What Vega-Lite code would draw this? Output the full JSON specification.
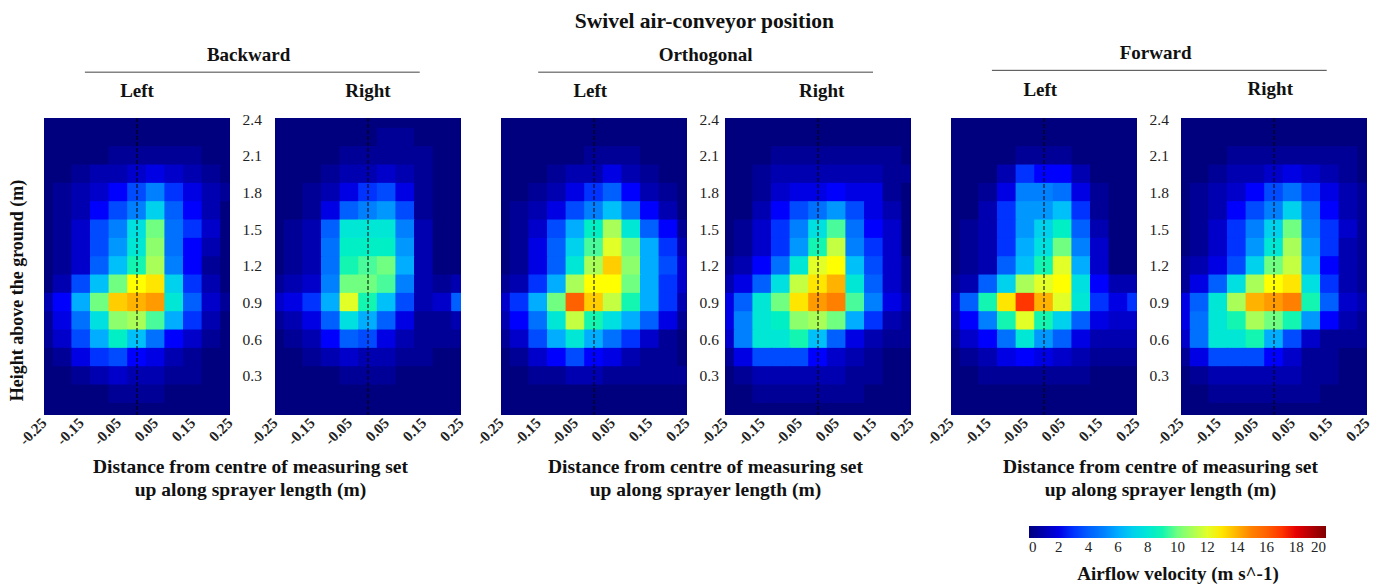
{"$schema":"https://vega.github.io/schema/vega-lite/v6.json",
"padding":{"left":8,"top":10,"right":0,"bottom":82},
"background":"white",
"title":{"text":"Swivel air-conveyor position","anchor":"middle","font":"Liberation Serif","fontSize":21.5,"fontWeight":"bold","color":"#111","offset":12,"dx":14},
"config":{"view":{"stroke":null},
"axisX":{"labels":false,"ticks":false,"domain":false,"grid":false,"titleFont":"Liberation Serif","titleFontSize":19.5,"titleFontWeight":"bold","titleColor":"#111","titleLineHeight":23,"titleY":42,"titleAnchor":"middle"},
"axisY":{"labelFont":"Liberation Serif","labelFontSize":15.5,"labelColor":"#222","ticks":false,"domain":false,"grid":false,"labelPadding":12,"titleFont":"Liberation Serif"},
"text":{"font":"Liberation Serif","fontSize":19,"fontWeight":"bold","color":"#111"}},
"datasets":{
"BL":[
{"y":2.4,"-25":0,"-20":0,"-15":0,"-10":0,"-5":0,"0":0,"5":0,"10":0,"15":0,"20":0,"25":0},
{"y":2.25,"-25":0,"-20":0,"-15":0,"-10":0,"-5":0,"0":0,"5":0,"10":0,"15":0,"20":0,"25":0},
{"y":2.1,"-25":0,"-20":0,"-15":0,"-10":0,"-5":0.5,"0":0.5,"5":0.5,"10":0.5,"15":0.5,"20":0,"25":0},
{"y":1.95,"-25":0,"-20":0,"-15":0.5,"-10":1,"-5":1,"0":1.5,"5":2,"10":1.5,"15":1,"20":0.5,"25":0},
{"y":1.8,"-25":0,"-20":0.5,"-15":1,"-10":1.5,"-5":2.5,"0":3.5,"5":5,"10":3,"15":2,"20":1,"25":0.5},
{"y":1.65,"-25":0,"-20":0.5,"-15":1,"-10":2.5,"-5":3.5,"0":5,"5":7,"10":4,"15":2.5,"20":1,"25":0},
{"y":1.5,"-25":0,"-20":0.5,"-15":1.5,"-10":3.5,"-5":5,"0":7.5,"5":10,"10":4.5,"15":3,"20":1.5,"25":0},
{"y":1.35,"-25":0,"-20":0.5,"-15":1.5,"-10":3.5,"-5":5.5,"0":8,"5":10.5,"10":4.5,"15":2.5,"20":1,"25":0},
{"y":1.2,"-25":0,"-20":0.5,"-15":1.5,"-10":4,"-5":6.5,"0":9,"5":11,"10":5,"15":2.5,"20":0.5,"25":0},
{"y":1.05,"-25":0,"-20":1,"-15":3.5,"-10":6.5,"-5":10,"0":12.5,"5":13,"10":7,"15":3,"20":1,"25":0},
{"y":0.9,"-25":1,"-20":2.5,"-15":6,"-10":10,"-5":13.5,"0":14,"5":14.5,"10":8,"15":4,"20":1.5,"25":0.5},
{"y":0.75,"-25":0.5,"-20":2,"-15":4.5,"-10":7.5,"-5":10.5,"0":11,"5":9.5,"10":6,"15":3,"20":1,"25":0},
{"y":0.6,"-25":0.5,"-20":1.5,"-15":3.5,"-10":6,"-5":8.5,"0":6.5,"5":4.5,"10":2.5,"15":1.5,"20":0.5,"25":0},
{"y":0.45,"-25":0,"-20":0.5,"-15":2,"-10":3,"-5":3.5,"0":2.5,"5":2,"10":1,"15":0.5,"20":0,"25":0},
{"y":0.3,"-25":0,"-20":0,"-15":0.5,"-10":1,"-5":1.5,"0":1,"5":1,"10":0.5,"15":0.5,"20":0,"25":0},
{"y":0.15,"-25":0,"-20":0,"-15":0,"-10":0,"-5":0.5,"0":0.5,"5":0.5,"10":0,"15":0,"20":0,"25":0},
{"y":0,"-25":0,"-20":0,"-15":0,"-10":0,"-5":0,"0":0,"5":0,"10":0,"15":0,"20":0,"25":0}],
"BR":[
{"y":2.4,"-25":0,"-20":0,"-15":0,"-10":0,"-5":0,"0":0,"5":0,"10":0,"15":0,"20":0,"25":0},
{"y":2.25,"-25":0,"-20":0,"-15":0,"-10":0,"-5":0,"0":0,"5":0.5,"10":0.5,"15":0,"20":0,"25":0},
{"y":2.1,"-25":0,"-20":0,"-15":0,"-10":0,"-5":0.5,"0":0.5,"5":0.5,"10":0.5,"15":0.5,"20":0,"25":0},
{"y":1.95,"-25":0,"-20":0,"-15":0,"-10":0.5,"-5":1,"0":1,"5":1.5,"10":1,"15":0.5,"20":0,"25":0},
{"y":1.8,"-25":0,"-20":0,"-15":0.5,"-10":1,"-5":2,"0":3,"5":3.5,"10":2,"15":0.5,"20":0,"25":0},
{"y":1.65,"-25":0,"-20":0,"-15":0.5,"-10":2,"-5":4,"0":5,"5":5.5,"10":3.5,"15":0.5,"20":0,"25":0},
{"y":1.5,"-25":0,"-20":0.5,"-15":1,"-10":4,"-5":8,"0":8,"5":8,"10":5,"15":1,"20":0,"25":0},
{"y":1.35,"-25":0,"-20":0.5,"-15":1,"-10":4.5,"-5":8.5,"0":8.5,"5":8.5,"10":5.5,"15":1,"20":0,"25":0},
{"y":1.2,"-25":0,"-20":0.5,"-15":1,"-10":4.5,"-5":9,"0":9.5,"5":10,"10":6,"15":1,"20":0,"25":0},
{"y":1.05,"-25":0.5,"-20":1,"-15":1.5,"-10":5,"-5":10,"0":10,"5":9.5,"10":5,"15":1,"20":0.5,"25":1},
{"y":0.9,"-25":1.5,"-20":2,"-15":3,"-10":6,"-5":12,"0":9,"5":6.5,"10":3.5,"15":1,"20":1.5,"25":4},
{"y":0.75,"-25":0.5,"-20":1,"-15":2,"-10":4,"-5":7.5,"0":6,"5":4,"10":2,"15":0.5,"20":0.5,"25":1},
{"y":0.6,"-25":0,"-20":0.5,"-15":1,"-10":2.5,"-5":4,"0":3.5,"5":2,"10":1,"15":0.5,"20":0.5,"25":0.5},
{"y":0.45,"-25":0,"-20":0,"-15":0.5,"-10":1,"-5":1.5,"0":1,"5":1,"10":0.5,"15":0.5,"20":0,"25":0},
{"y":0.3,"-25":0,"-20":0,"-15":0,"-10":0,"-5":0.5,"0":0.5,"5":0.5,"10":0,"15":0,"20":0,"25":0},
{"y":0.15,"-25":0,"-20":0,"-15":0,"-10":0,"-5":0,"0":0,"5":0,"10":0,"15":0,"20":0,"25":0},
{"y":0,"-25":0,"-20":0,"-15":0,"-10":0,"-5":0,"0":0,"5":0,"10":0,"15":0,"20":0,"25":0}],
"OL":[
{"y":2.4,"-25":0,"-20":0,"-15":0,"-10":0,"-5":0,"0":0,"5":0,"10":0,"15":0,"20":0,"25":0},
{"y":2.25,"-25":0,"-20":0,"-15":0,"-10":0,"-5":0,"0":0,"5":0,"10":0,"15":0,"20":0,"25":0},
{"y":2.1,"-25":0,"-20":0,"-15":0,"-10":0,"-5":0,"0":0.5,"5":0.5,"10":0.5,"15":0,"20":0,"25":0},
{"y":1.95,"-25":0,"-20":0,"-15":0,"-10":0.5,"-5":1,"0":1,"5":2,"10":1,"15":0.5,"20":0,"25":0},
{"y":1.8,"-25":0,"-20":0,"-15":0.5,"-10":1,"-5":2,"0":3,"5":4,"10":2.5,"15":1,"20":0.5,"25":0},
{"y":1.65,"-25":0,"-20":0.5,"-15":1,"-10":2,"-5":3.5,"0":5,"5":6.5,"10":4.5,"15":2.5,"20":1,"25":0},
{"y":1.5,"-25":0,"-20":0.5,"-15":1.5,"-10":3.5,"-5":6,"0":8.5,"5":11,"10":8,"15":4,"20":2.5,"25":0.5},
{"y":1.35,"-25":0,"-20":0.5,"-15":2,"-10":4,"-5":7,"0":9.5,"5":12,"10":10,"15":6,"20":3,"25":1},
{"y":1.2,"-25":0,"-20":0.5,"-15":2,"-10":4,"-5":8,"0":11,"5":13.5,"10":10.5,"15":6,"20":3.5,"25":1.5},
{"y":1.05,"-25":0.5,"-20":1,"-15":3,"-10":6,"-5":11,"0":12.5,"5":12.5,"10":10,"15":6,"20":3,"25":1.5},
{"y":0.9,"-25":1.5,"-20":3,"-15":6,"-10":10,"-5":16,"0":13.5,"5":11.5,"10":9,"15":6,"20":3,"25":1},
{"y":0.75,"-25":1,"-20":2.5,"-15":4.5,"-10":8,"-5":11.5,"0":9,"5":7.5,"10":6,"15":4,"20":2,"25":0.5},
{"y":0.6,"-25":0.5,"-20":1.5,"-15":3.5,"-10":6,"-5":8,"0":6,"5":4.5,"10":3,"15":1.5,"20":0.5,"25":0},
{"y":0.45,"-25":0,"-20":0.5,"-15":1.5,"-10":2.5,"-5":3.5,"0":2.5,"5":2,"10":1,"15":0.5,"20":0.5,"25":0},
{"y":0.3,"-25":0,"-20":0,"-15":0.5,"-10":0.5,"-5":1,"0":1,"5":0.5,"10":0.5,"15":0.5,"20":0.5,"25":0.5},
{"y":0.15,"-25":0,"-20":0,"-15":0,"-10":0,"-5":0,"0":0,"5":0,"10":0,"15":0,"20":0,"25":0},
{"y":0,"-25":0,"-20":0,"-15":0,"-10":0,"-5":0,"0":0,"5":0,"10":0,"15":0,"20":0,"25":0}],
"OR":[
{"y":2.4,"-25":0,"-20":0,"-15":0,"-10":0,"-5":0,"0":0,"5":0,"10":0,"15":0,"20":0,"25":0},
{"y":2.25,"-25":0,"-20":0,"-15":0,"-10":0,"-5":0,"0":0,"5":0,"10":0,"15":0,"20":0,"25":0},
{"y":2.1,"-25":0,"-20":0,"-15":0,"-10":0.5,"-5":0.5,"0":0.5,"5":0.5,"10":0.5,"15":0.5,"20":0.5,"25":0},
{"y":1.95,"-25":0,"-20":0,"-15":0.5,"-10":1,"-5":1,"0":1,"5":1,"10":1,"15":1,"20":0.5,"25":0.5},
{"y":1.8,"-25":0,"-20":0,"-15":0.5,"-10":1.5,"-5":2,"0":2,"5":2.5,"10":2,"15":2,"20":0.5,"25":0},
{"y":1.65,"-25":0,"-20":0,"-15":1,"-10":2.5,"-5":3.5,"0":4.5,"5":5.5,"10":3.5,"15":2,"20":1,"25":0},
{"y":1.5,"-25":0,"-20":0.5,"-15":1.5,"-10":3,"-5":5,"0":7.5,"5":9.5,"10":4.5,"15":2.5,"20":1.5,"25":0},
{"y":1.35,"-25":0,"-20":0.5,"-15":1.5,"-10":3,"-5":5.5,"0":9,"5":11.5,"10":5,"15":3,"20":1.5,"25":0},
{"y":1.2,"-25":0.5,"-20":1,"-15":2.5,"-10":4.5,"-5":8,"0":12,"5":12.5,"10":6.5,"15":3.5,"20":1.5,"25":0.5},
{"y":1.05,"-25":1,"-20":2,"-15":4,"-10":7.5,"-5":11.5,"0":13,"5":14,"10":8,"15":4,"20":1.5,"25":0.5},
{"y":0.9,"-25":2,"-20":4,"-15":8,"-10":10,"-5":13,"0":14.5,"5":15,"10":9.5,"15":5,"20":2,"25":1},
{"y":0.75,"-25":2,"-20":5,"-15":8,"-10":8.5,"-5":10.5,"0":11,"5":10,"10":6,"15":3,"20":1,"25":0.5},
{"y":0.6,"-25":1.5,"-20":5,"-15":8,"-10":8,"-5":9,"0":6.5,"5":4,"10":2,"15":1,"20":0.5,"25":0.5},
{"y":0.45,"-25":0.5,"-20":2,"-15":3.5,"-10":3.5,"-5":3.5,"0":2.5,"5":1.5,"10":1,"15":0.5,"20":0,"25":0},
{"y":0.3,"-25":0,"-20":0.5,"-15":1,"-10":1,"-5":1,"0":1,"5":1,"10":0.5,"15":0.5,"20":0,"25":0},
{"y":0.15,"-25":0,"-20":0,"-15":0.5,"-10":0.5,"-5":0.5,"0":0.5,"5":0.5,"10":0.5,"15":0,"20":0,"25":0},
{"y":0,"-25":0,"-20":0,"-15":0,"-10":0,"-5":0,"0":0,"5":0,"10":0,"15":0,"20":0,"25":0}],
"FL":[
{"y":2.4,"-25":0,"-20":0,"-15":0,"-10":0,"-5":0,"0":0,"5":0,"10":0,"15":0,"20":0,"25":0},
{"y":2.25,"-25":0,"-20":0,"-15":0,"-10":0,"-5":0,"0":0,"5":0,"10":0,"15":0,"20":0,"25":0},
{"y":2.1,"-25":0,"-20":0,"-15":0,"-10":0,"-5":0.5,"0":0.5,"5":0.5,"10":0,"15":0,"20":0,"25":0},
{"y":1.95,"-25":0,"-20":0,"-15":0,"-10":1,"-5":3,"0":2.5,"5":2.5,"10":1,"15":0,"20":0,"25":0},
{"y":1.8,"-25":0,"-20":0,"-15":0.5,"-10":2,"-5":5,"0":5,"5":4.5,"10":2,"15":0.5,"20":0,"25":0},
{"y":1.65,"-25":0,"-20":0,"-15":1,"-10":3,"-5":5.5,"0":5.5,"5":6.5,"10":3,"15":0.5,"20":0,"25":0},
{"y":1.5,"-25":0,"-20":0.5,"-15":1,"-10":3,"-5":5.5,"0":7,"5":8.5,"10":4,"15":1,"20":0,"25":0},
{"y":1.35,"-25":0,"-20":0.5,"-15":1,"-10":3,"-5":6,"0":7.5,"5":10,"10":5,"15":1.5,"20":0,"25":0},
{"y":1.2,"-25":0,"-20":0.5,"-15":1,"-10":4,"-5":6.5,"0":9,"5":12,"10":6,"15":1.5,"20":0,"25":0},
{"y":1.05,"-25":0.5,"-20":1,"-15":4,"-10":7,"-5":11,"0":12,"5":12.5,"10":7.5,"15":2.5,"20":1,"25":1},
{"y":0.9,"-25":1.5,"-20":4,"-15":9,"-10":13,"-5":17,"0":14,"5":12,"10":8,"15":3,"20":2,"25":3},
{"y":0.75,"-25":1,"-20":2.5,"-15":5,"-10":9,"-5":12,"0":9,"5":7,"10":4,"15":2,"20":1.5,"25":1.5},
{"y":0.6,"-25":0.5,"-20":1.5,"-15":2.5,"-10":4.5,"-5":8,"0":5.5,"5":4,"10":2,"15":1,"20":1,"25":1},
{"y":0.45,"-25":0,"-20":0.5,"-15":1,"-10":2,"-5":2.5,"0":2,"5":1.5,"10":1,"15":0.5,"20":0.5,"25":0.5},
{"y":0.3,"-25":0,"-20":0,"-15":0.5,"-10":0.5,"-5":0.5,"0":0.5,"5":0.5,"10":0.5,"15":0,"20":0,"25":0},
{"y":0.15,"-25":0,"-20":0,"-15":0,"-10":0,"-5":0,"0":0,"5":0,"10":0,"15":0,"20":0,"25":0},
{"y":0,"-25":0,"-20":0,"-15":0,"-10":0,"-5":0,"0":0,"5":0,"10":0,"15":0,"20":0,"25":0}],
"FR":[
{"y":2.4,"-25":0,"-20":0,"-15":0,"-10":0,"-5":0,"0":0,"5":0,"10":0,"15":0,"20":0,"25":0},
{"y":2.25,"-25":0,"-20":0,"-15":0,"-10":0,"-5":0,"0":0,"5":0,"10":0,"15":0,"20":0,"25":0},
{"y":2.1,"-25":0,"-20":0,"-15":0,"-10":0.5,"-5":0.5,"0":0.5,"5":0.5,"10":0.5,"15":0.5,"20":0.5,"25":0},
{"y":1.95,"-25":0,"-20":0,"-15":0.5,"-10":1,"-5":1,"0":1.5,"5":2,"10":1.5,"15":1,"20":0.5,"25":0},
{"y":1.8,"-25":0,"-20":0.5,"-15":1,"-10":1.5,"-5":2.5,"0":3.5,"5":4.5,"10":3,"15":2,"20":1,"25":0.5},
{"y":1.65,"-25":0,"-20":0.5,"-15":1,"-10":2.5,"-5":3.5,"0":5,"5":7,"10":4.5,"15":2.5,"20":1,"25":0.5},
{"y":1.5,"-25":0,"-20":0.5,"-15":1.5,"-10":3,"-5":5,"0":7,"5":10,"10":5,"15":3,"20":1.5,"25":0.5},
{"y":1.35,"-25":0,"-20":0.5,"-15":1.5,"-10":3,"-5":5.5,"0":8,"5":11,"10":5.5,"15":3,"20":1,"25":0.5},
{"y":1.2,"-25":0.5,"-20":1,"-15":2,"-10":3.5,"-5":7,"0":10,"5":11.5,"10":6,"15":2.5,"20":1,"25":0.5},
{"y":1.05,"-25":0.5,"-20":2,"-15":4,"-10":7.5,"-5":11,"0":12.5,"5":13,"10":7.5,"15":3,"20":1,"25":0.5},
{"y":0.9,"-25":2,"-20":4,"-15":8,"-10":11,"-5":14,"0":14.5,"5":15,"10":9,"15":4,"20":1.5,"25":1},
{"y":0.75,"-25":2,"-20":4.5,"-15":8,"-10":9,"-5":11,"0":10,"5":9,"10":5.5,"15":2.5,"20":1,"25":0.5},
{"y":0.6,"-25":1.5,"-20":4.5,"-15":8,"-10":8,"-5":9,"0":6,"5":3.5,"10":1.5,"15":0.5,"20":0.5,"25":0.5},
{"y":0.45,"-25":0.5,"-20":2,"-15":3.5,"-10":3.5,"-5":3.5,"0":2.5,"5":1.5,"10":0.5,"15":0.5,"20":0,"25":0},
{"y":0.3,"-25":0,"-20":0.5,"-15":1,"-10":1,"-5":1,"0":1,"5":1,"10":0.5,"15":0.5,"20":0,"25":0},
{"y":0.15,"-25":0,"-20":0,"-15":0.5,"-10":0.5,"-5":0.5,"0":0.5,"5":0.5,"10":0.5,"15":0,"20":0,"25":0},
{"y":0,"-25":0,"-20":0,"-15":0,"-10":0,"-5":0,"0":0,"5":0,"10":0,"15":0,"20":0,"25":0}],
"ZERO":[{"x0":0}],
"TICKS":[{"tk":-25,"ly":-0.065,"l":"-0.25"},{"tk":-15,"ly":-0.065,"l":"-0.15"},{"tk":-5,"ly":-0.065,"l":"-0.05"},{"tk":5,"ly":-0.065,"l":"0.05"},{"tk":15,"ly":-0.065,"l":"0.15"},{"tk":25,"ly":-0.065,"l":"0.25"}]
},
"spacing":6,
"resolve":{"scale":{"color":"independent"},"legend":{"color":"independent"}},
"hconcat":[
{"spacing":45,"bounds":"flush","resolve":{"scale":{"color":"independent"},"legend":{"color":"independent"}},"hconcat":[
{"width":186,"height":297,"layer":[
{"data":{"name":"BL"},"transform":[{"fold":["-25","-20","-15","-10","-5","0","5","10","15","20","25"],"as":["x","v"]}],"mark":{"type":"rect","width":19.6,"height":19.4,"clip":true},"encoding":{
"x":{"field":"x","type":"quantitative","scale":{"domain":[-25,25],"nice":false,"zero":false},"axis":{"title":["Distance from centre of measuring set","up along sprayer length (m)"],"titleX":206}},
"y":{"field":"y","type":"quantitative","scale":{"domain":[-0.02,2.41],"nice":false,"zero":false},"axis":{"values":[0.3,0.6,0.9,1.2,1.5,1.8,2.1,2.4],"format":".1f","labelOverlap":false,"orient":"right","title":"Height above the ground (m)","titleFontSize":18,"titleFontWeight":"bold","titleColor":"#111","titleX":-204,"titleY":172,"titleAngle":270}},
"color":{"field":"v","type":"quantitative","scale":{"domain":[0,2.5,5,7.5,10,12.5,15,17.5,20],"range":["#00007f","#0000ff","#0080ff","#00e0e0","#70ff80","#ffff00","#ff8000","#ff0000","#800000"]},"legend":null}}},
{"data":{"values":[{"a":-14,"b":76,"ly":2.785,"tx":30,"ty":2.925,"t":"Backward","sx":0,"sy":2.63,"s":"Left"}]},"layer":[
{"mark":{"type":"rule","color":"#444","strokeWidth":1},"encoding":{"x":{"field":"a","type":"quantitative"},"x2":{"field":"b"},"y":{"field":"ly","type":"quantitative"}}},
{"mark":{"type":"text"},"encoding":{"x":{"field":"tx","type":"quantitative"},"y":{"field":"ty","type":"quantitative"},"text":{"field":"t"}}},
{"mark":{"type":"text"},"encoding":{"x":{"field":"sx","type":"quantitative"},"y":{"field":"sy","type":"quantitative"},"text":{"field":"s"}}}]},
{"data":{"name":"TICKS"},"mark":{"type":"text","angle":315,"align":"right","baseline":"middle","fontSize":15,"color":"#222"},"encoding":{"x":{"field":"tk","type":"quantitative"},"y":{"field":"ly","type":"quantitative"},"text":{"field":"l"}}},
{"data":{"name":"ZERO"},"mark":{"type":"rule","color":"#000","strokeDash":[4,2],"strokeWidth":1},"encoding":{"x":{"field":"x0","type":"quantitative"}}}]},
{"width":186,"height":297,"layer":[
{"data":{"name":"BR"},"transform":[{"fold":["-25","-20","-15","-10","-5","0","5","10","15","20","25"],"as":["x","v"]}],"mark":{"type":"rect","width":19.6,"height":19.4,"clip":true},"encoding":{
"x":{"field":"x","type":"quantitative","scale":{"domain":[-25,25],"nice":false,"zero":false},"axis":{"title":null}},
"y":{"field":"y","type":"quantitative","scale":{"domain":[-0.02,2.41],"nice":false,"zero":false},"axis":null},
"color":{"field":"v","type":"quantitative","scale":{"domain":[0,2.5,5,7.5,10,12.5,15,17.5,20],"range":["#00007f","#0000ff","#0080ff","#00e0e0","#70ff80","#ffff00","#ff8000","#ff0000","#800000"]},"legend":null}}},
{"data":{"values":[{"sx":0,"sy":2.63,"s":"Right"}]},"mark":{"type":"text"},"encoding":{"x":{"field":"sx","type":"quantitative"},"y":{"field":"sy","type":"quantitative"},"text":{"field":"s"}}},
{"data":{"name":"TICKS"},"mark":{"type":"text","angle":315,"align":"right","baseline":"middle","fontSize":15,"color":"#222"},"encoding":{"x":{"field":"tk","type":"quantitative"},"y":{"field":"ly","type":"quantitative"},"text":{"field":"l"}}},
{"data":{"name":"ZERO"},"mark":{"type":"rule","color":"#000","strokeDash":[4,2],"strokeWidth":1},"encoding":{"x":{"field":"x0","type":"quantitative"}}}]}
]},
{"spacing":38,"bounds":"flush","resolve":{"scale":{"color":"independent"},"legend":{"color":"independent"}},"hconcat":[
{"width":186,"height":297,"layer":[
{"data":{"name":"OL"},"transform":[{"fold":["-25","-20","-15","-10","-5","0","5","10","15","20","25"],"as":["x","v"]}],"mark":{"type":"rect","width":19.6,"height":19.4,"clip":true},"encoding":{
"x":{"field":"x","type":"quantitative","scale":{"domain":[-25,25],"nice":false,"zero":false},"axis":{"title":["Distance from centre of measuring set","up along sprayer length (m)"],"titleX":204}},
"y":{"field":"y","type":"quantitative","scale":{"domain":[-0.02,2.41],"nice":false,"zero":false},"axis":{"values":[0.3,0.6,0.9,1.2,1.5,1.8,2.1,2.4],"format":".1f","labelOverlap":false,"orient":"right","title":null}},
"color":{"field":"v","type":"quantitative","scale":{"domain":[0,2.5,5,7.5,10,12.5,15,17.5,20],"range":["#00007f","#0000ff","#0080ff","#00e0e0","#70ff80","#ffff00","#ff8000","#ff0000","#800000"]},"legend":null}}},
{"data":{"values":[{"a":-15,"b":75,"ly":2.785,"tx":30,"ty":2.925,"t":"Orthogonal","sx":-1,"sy":2.63,"s":"Left"}]},"layer":[
{"mark":{"type":"rule","color":"#444","strokeWidth":1},"encoding":{"x":{"field":"a","type":"quantitative"},"x2":{"field":"b"},"y":{"field":"ly","type":"quantitative"}}},
{"mark":{"type":"text"},"encoding":{"x":{"field":"tx","type":"quantitative"},"y":{"field":"ty","type":"quantitative"},"text":{"field":"t"}}},
{"mark":{"type":"text"},"encoding":{"x":{"field":"sx","type":"quantitative"},"y":{"field":"sy","type":"quantitative"},"text":{"field":"s"}}}]},
{"data":{"name":"TICKS"},"mark":{"type":"text","angle":315,"align":"right","baseline":"middle","fontSize":15,"color":"#222"},"encoding":{"x":{"field":"tk","type":"quantitative"},"y":{"field":"ly","type":"quantitative"},"text":{"field":"l"}}},
{"data":{"name":"ZERO"},"mark":{"type":"rule","color":"#000","strokeDash":[4,2],"strokeWidth":1},"encoding":{"x":{"field":"x0","type":"quantitative"}}}]},
{"width":186,"height":297,"layer":[
{"data":{"name":"OR"},"transform":[{"fold":["-25","-20","-15","-10","-5","0","5","10","15","20","25"],"as":["x","v"]}],"mark":{"type":"rect","width":19.6,"height":19.4,"clip":true},"encoding":{
"x":{"field":"x","type":"quantitative","scale":{"domain":[-25,25],"nice":false,"zero":false},"axis":{"title":null}},
"y":{"field":"y","type":"quantitative","scale":{"domain":[-0.02,2.41],"nice":false,"zero":false},"axis":null},
"color":{"field":"v","type":"quantitative","scale":{"domain":[0,2.5,5,7.5,10,12.5,15,17.5,20],"range":["#00007f","#0000ff","#0080ff","#00e0e0","#70ff80","#ffff00","#ff8000","#ff0000","#800000"]},"legend":null}}},
{"data":{"values":[{"sx":1,"sy":2.63,"s":"Right"}]},"mark":{"type":"text"},"encoding":{"x":{"field":"sx","type":"quantitative"},"y":{"field":"sy","type":"quantitative"},"text":{"field":"s"}}},
{"data":{"name":"TICKS"},"mark":{"type":"text","angle":315,"align":"right","baseline":"middle","fontSize":15,"color":"#222"},"encoding":{"x":{"field":"tk","type":"quantitative"},"y":{"field":"ly","type":"quantitative"},"text":{"field":"l"}}},
{"data":{"name":"ZERO"},"mark":{"type":"rule","color":"#000","strokeDash":[4,2],"strokeWidth":1},"encoding":{"x":{"field":"x0","type":"quantitative"}}}]}
]},
{"spacing":44,"bounds":"flush","resolve":{"scale":{"color":"independent"},"legend":{"color":"independent"}},"hconcat":[
{"width":186,"height":297,"layer":[
{"data":{"name":"FL"},"transform":[{"fold":["-25","-20","-15","-10","-5","0","5","10","15","20","25"],"as":["x","v"]}],"mark":{"type":"rect","width":19.6,"height":19.4,"clip":true},"encoding":{
"x":{"field":"x","type":"quantitative","scale":{"domain":[-25,25],"nice":false,"zero":false},"axis":{"title":["Distance from centre of measuring set","up along sprayer length (m)"],"titleX":209}},
"y":{"field":"y","type":"quantitative","scale":{"domain":[-0.02,2.41],"nice":false,"zero":false},"axis":{"values":[0.3,0.6,0.9,1.2,1.5,1.8,2.1,2.4],"format":".1f","labelOverlap":false,"orient":"right","title":null}},
"color":{"field":"v","type":"quantitative","scale":{"domain":[0,2.5,5,7.5,10,12.5,15,17.5,20],"range":["#00007f","#0000ff","#0080ff","#00e0e0","#70ff80","#ffff00","#ff8000","#ff0000","#800000"]},"legend":null}}},
{"data":{"values":[{"a":-14,"b":76,"ly":2.8,"tx":30,"ty":2.94,"t":"Forward","sx":-1,"sy":2.64,"s":"Left"}]},"layer":[
{"mark":{"type":"rule","color":"#444","strokeWidth":1},"encoding":{"x":{"field":"a","type":"quantitative"},"x2":{"field":"b"},"y":{"field":"ly","type":"quantitative"}}},
{"mark":{"type":"text"},"encoding":{"x":{"field":"tx","type":"quantitative"},"y":{"field":"ty","type":"quantitative"},"text":{"field":"t"}}},
{"mark":{"type":"text"},"encoding":{"x":{"field":"sx","type":"quantitative"},"y":{"field":"sy","type":"quantitative"},"text":{"field":"s"}}}]},
{"data":{"name":"TICKS"},"mark":{"type":"text","angle":315,"align":"right","baseline":"middle","fontSize":15,"color":"#222"},"encoding":{"x":{"field":"tk","type":"quantitative"},"y":{"field":"ly","type":"quantitative"},"text":{"field":"l"}}},
{"data":{"name":"ZERO"},"mark":{"type":"rule","color":"#000","strokeDash":[4,2],"strokeWidth":1},"encoding":{"x":{"field":"x0","type":"quantitative"}}}]},
{"width":186,"height":297,"layer":[
{"data":{"name":"FR"},"transform":[{"fold":["-25","-20","-15","-10","-5","0","5","10","15","20","25"],"as":["x","v"]}],"mark":{"type":"rect","width":19.6,"height":19.4,"clip":true},"encoding":{
"x":{"field":"x","type":"quantitative","scale":{"domain":[-25,25],"nice":false,"zero":false},"axis":{"title":null}},
"y":{"field":"y","type":"quantitative","scale":{"domain":[-0.02,2.41],"nice":false,"zero":false},"axis":null},
"color":{"field":"v","type":"quantitative","scale":{"domain":[0,2.5,5,7.5,10,12.5,15,17.5,20],"range":["#00007f","#0000ff","#0080ff","#00e0e0","#70ff80","#ffff00","#ff8000","#ff0000","#800000"]},"legend":{"orient":"none","legendX":-152,"legendY":408,"direction":"horizontal","gradientLength":297,"gradientThickness":12,"values":[0,2,4,6,8,10,12,14,16,18,20],"labelFont":"Liberation Serif","labelFontSize":15,"labelColor":"#222","title":"Airflow velocity (m s^-1)","titleOrient":"bottom","titleAnchor":"middle","titleFont":"Liberation Serif","titleFontSize":19,"titleFontWeight":"bold","titleColor":"#111","titlePadding":10,"titleLimit":300}}}},
{"data":{"values":[{"sx":-1,"sy":2.65,"s":"Right"}]},"mark":{"type":"text"},"encoding":{"x":{"field":"sx","type":"quantitative"},"y":{"field":"sy","type":"quantitative"},"text":{"field":"s"}}},
{"data":{"name":"TICKS"},"mark":{"type":"text","angle":315,"align":"right","baseline":"middle","fontSize":15,"color":"#222"},"encoding":{"x":{"field":"tk","type":"quantitative"},"y":{"field":"ly","type":"quantitative"},"text":{"field":"l"}}},
{"data":{"name":"ZERO"},"mark":{"type":"rule","color":"#000","strokeDash":[4,2],"strokeWidth":1},"encoding":{"x":{"field":"x0","type":"quantitative"}}}]}
]}
]}
